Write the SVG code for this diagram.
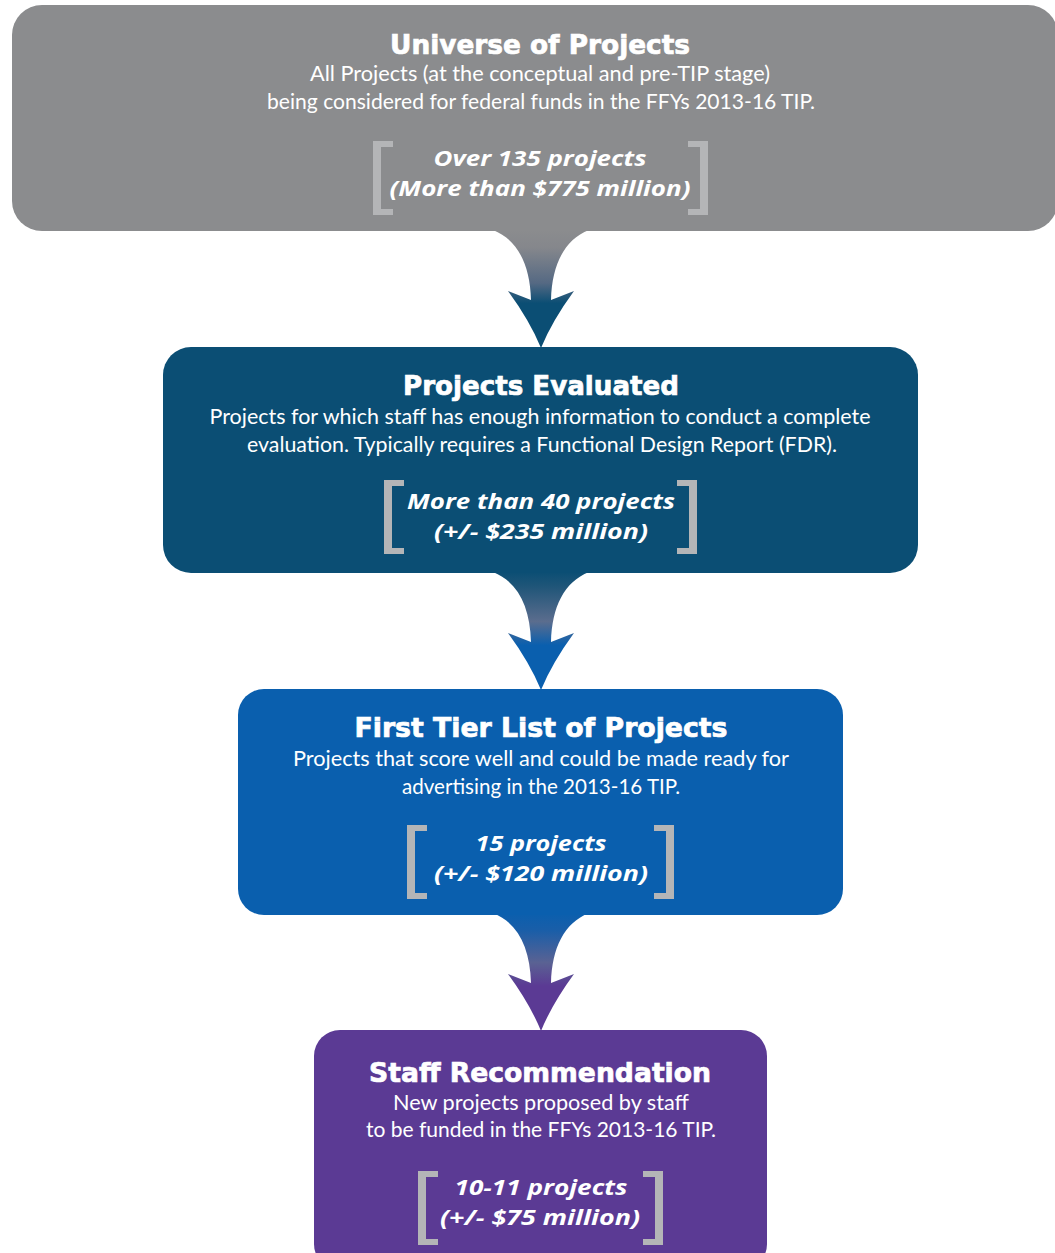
<svg xmlns="http://www.w3.org/2000/svg" xmlns:xlink="http://www.w3.org/1999/xlink" width="1055" height="1253" viewBox="0 0 1055 1253">
<style>
.title{font-family:"DejaVu Sans",sans-serif;font-weight:bold;font-size:26px;fill:#fff;stroke:#fff;stroke-width:0.7px;text-anchor:middle}
.body{font-family:Lato,"Open Sans",sans-serif;font-size:21px;fill:#fff;text-anchor:middle}
.fig{font-family:"Open Sans",sans-serif;font-weight:bold;font-style:italic;font-size:22px;fill:#fff;text-anchor:middle}
.brk{fill:#b4b5b7}
</style>
<defs>
<linearGradient id="g1" x1="0" y1="0" x2="0" y2="1">
<stop offset="0" stop-color="#8b8c8e"/><stop offset="0.15" stop-color="#85878c"/><stop offset="0.45" stop-color="#556983"/><stop offset="0.62" stop-color="#0b4e74"/><stop offset="1" stop-color="#0b4e74"/>
</linearGradient>
<linearGradient id="g2" x1="0" y1="0" x2="0" y2="1">
<stop offset="0" stop-color="#0b4e74"/><stop offset="0.12" stop-color="#1f5578"/><stop offset="0.42" stop-color="#5b6d8e"/><stop offset="0.62" stop-color="#0a5fae"/><stop offset="1" stop-color="#0a5fae"/>
</linearGradient>
<linearGradient id="g3" x1="0" y1="0" x2="0" y2="1">
<stop offset="0" stop-color="#0a5fae"/><stop offset="0.15" stop-color="#1a5ea8"/><stop offset="0.42" stop-color="#5a6293"/><stop offset="0.62" stop-color="#5b3a94"/><stop offset="1" stop-color="#5b3a94"/>
</linearGradient>
<path id="arrowShape" d="M493,-1 C518,9 530,34 531,69 L508,60 Q530,90 541,117 Q552,90 574,60 L551,69 C552,34 564,9 589,-1 Z"/>
<path id="lb" d="M0,0 H20 V6 H8 V68 H20 V74 H0 Z"/>
<path id="rb" d="M20,0 H0 V6 H12 V68 H0 V74 H20 Z"/>
</defs>

<g id="connectors">
<use xlink:href="#arrowShape" href="#arrowShape" y="231" fill="url(#g1)"/>
<use xlink:href="#arrowShape" href="#arrowShape" y="573" fill="url(#g2)"/>
<use xlink:href="#arrowShape" href="#arrowShape" y="914" fill="url(#g3)"/>
</g>

<g id="universe">
<rect x="12" y="5" width="1046" height="226" rx="30" fill="#8b8c8e"/>
<text class="title" x="540" y="54" textLength="300" lengthAdjust="spacingAndGlyphs">Universe of Projects</text>
<text class="body" x="540" y="81" textLength="460" lengthAdjust="spacingAndGlyphs">All Projects (at the conceptual and pre-TIP stage)</text>
<text class="body" x="541" y="109" textLength="548" lengthAdjust="spacingAndGlyphs">being considered for federal funds in the FFYs 2013-16 TIP.</text>
<use xlink:href="#lb" href="#lb" x="373" y="141" class="brk"/>
<use xlink:href="#rb" href="#rb" x="688" y="141" class="brk"/>
<text class="fig" x="540" y="166" textLength="213" lengthAdjust="spacingAndGlyphs">Over 135 projects</text>
<text class="fig" x="540" y="196" textLength="301" lengthAdjust="spacingAndGlyphs">(More than $775 million)</text>
</g>

<g id="evaluated">
<rect x="163" y="347" width="755" height="226" rx="28" fill="#0b4e74"/>
<text class="title" x="541" y="395" textLength="276" lengthAdjust="spacingAndGlyphs">Projects Evaluated</text>
<text class="body" x="540" y="424" textLength="661" lengthAdjust="spacingAndGlyphs">Projects for which staff has enough information to conduct a complete</text>
<text class="body" x="542" y="452" textLength="590" lengthAdjust="spacingAndGlyphs">evaluation. Typically requires a Functional Design Report (FDR).</text>
<use xlink:href="#lb" href="#lb" x="384" y="480" class="brk"/>
<use xlink:href="#rb" href="#rb" x="677" y="480" class="brk"/>
<text class="fig" x="541" y="509" textLength="268" lengthAdjust="spacingAndGlyphs">More than 40 projects</text>
<text class="fig" x="541" y="539" textLength="214" lengthAdjust="spacingAndGlyphs">(+/- $235 million)</text>
</g>

<g id="firsttier">
<rect x="238" y="689" width="605" height="226" rx="26" fill="#0a5fae"/>
<text class="title" x="541" y="737" textLength="373" lengthAdjust="spacingAndGlyphs">First Tier List of Projects</text>
<text class="body" x="541" y="766" textLength="496" lengthAdjust="spacingAndGlyphs">Projects that score well and could be made ready for</text>
<text class="body" x="541" y="794" textLength="278" lengthAdjust="spacingAndGlyphs">advertising in the 2013-16 TIP.</text>
<use xlink:href="#lb" href="#lb" x="407" y="825" class="brk"/>
<use xlink:href="#rb" href="#rb" x="654" y="825" class="brk"/>
<text class="fig" x="541" y="851" textLength="131" lengthAdjust="spacingAndGlyphs">15 projects</text>
<text class="fig" x="541" y="881" textLength="214" lengthAdjust="spacingAndGlyphs">(+/- $120 million)</text>
</g>

<g id="staffrec">
<rect x="314" y="1030" width="453" height="240" rx="26" fill="#5b3a94"/>
<text class="title" x="540" y="1082" textLength="342" lengthAdjust="spacingAndGlyphs">Staff Recommendation</text>
<text class="body" x="541" y="1110" textLength="296" lengthAdjust="spacingAndGlyphs">New projects proposed by staff</text>
<text class="body" x="541" y="1137" textLength="350" lengthAdjust="spacingAndGlyphs">to be funded in the FFYs 2013-16 TIP.</text>
<use xlink:href="#lb" href="#lb" x="418" y="1171" class="brk"/>
<use xlink:href="#rb" href="#rb" x="643" y="1171" class="brk"/>
<text class="fig" x="541" y="1195" textLength="173" lengthAdjust="spacingAndGlyphs">10-11 projects</text>
<text class="fig" x="540" y="1225" textLength="200" lengthAdjust="spacingAndGlyphs">(+/- $75 million)</text>
</g>
</svg>
